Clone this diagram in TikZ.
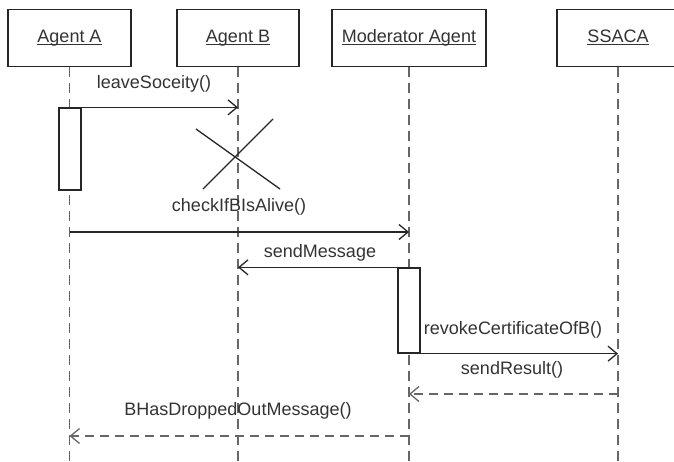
\documentclass[tikz,border=0pt]{standalone}
\usepackage{fontspec}
\setmainfont{Liberation Sans}
\usetikzlibrary{arrows.meta}
\begin{document}
\begin{tikzpicture}[x=1pt,y=-1pt,
  every node/.style={font=\fontsize{18}{20}\selectfont, text=black!80, inner sep=0pt},
  actor/.style={draw=black!85, line width=1.3pt, fill=white, minimum height=57pt},
  title/.style={anchor=base},
  uline/.style={draw=black!80, line width=1pt},
  life/.style={draw=black!60, line width=1.8pt, dash pattern=on 10pt off 6pt},
  msg/.style={draw=black!85, line width=1.3pt, -{Straight Barb[length=9pt,width=15pt,line width=1.3pt]}},
  reply/.style={msg, draw=black!60, line width=1.6pt, dash pattern=on 9pt off 6pt},
  act/.style={draw=black!85, line width=1.3pt, fill=white, minimum width=22pt},
  ]
\useasboundingbox (0,0) rectangle (674,461);
\clip (0,0) rectangle (674,461);

% participants
\node[actor, minimum width=123pt] (A) at (69.5,38) {};
\node[actor, minimum width=122pt] (B) at (238,38) {};
\node[actor, minimum width=154pt] (M) at (409,38) {};
\node[actor, minimum width=122pt] (S) at (618,38) {};

% underlined participant names
\foreach \p/\t in {A/Agent A,B/Agent B,M/Moderator Agent,S/SSACA}{
  \node[title] (\p t) at ([yshift=-4pt]\p.center) {\t};
  \draw[uline] ([yshift=-2.5pt]\p t.base west) -- ([yshift=-2.5pt]\p t.base east);
}

\coordinate (bottom) at (0,463);

% lifelines
\foreach \p in {A,B,M,S}
  \draw[life] (\p.south) -- (\p.south |- bottom);

% activation bars
\node[act, minimum height=82pt] (actA) at (70,149) {};
\node[act, minimum height=85pt] (actM) at (409,310.5) {};

% destruction of Agent B
\draw[draw=black!85, line width=1.3pt] (196,129) -- (280,189) (273,119) -- (203,189);

% messages
\draw[msg] (actA.north east) -- (actA.north east -| B.south);
\node at (154,84) {leaveSoceity()};

\coordinate (y2) at (0,232);
\draw[msg] (A.south |- y2) -- (M.south |- y2);
\node at (239,207) {checkIfBIsAlive()};

\draw[msg] (actM.north east) -- (actM.north east -| B.south);
\node at (320,253) {sendMessage};

\draw[msg] (actM.south east) -- (actM.south east -| S.south);
\node at (513,330) {revokeCertificateOfB()};

\coordinate (y5) at (0,394);
\draw[reply] (S.south |- y5) -- (M.south |- y5);
\node at (512,370) {sendResult()};

\coordinate (y6) at (0,436);
\draw[reply] (M.south |- y6) -- (A.south |- y6);
\node at (238,411) {BHasDroppedOutMessage()};
\end{tikzpicture}
\end{document}
